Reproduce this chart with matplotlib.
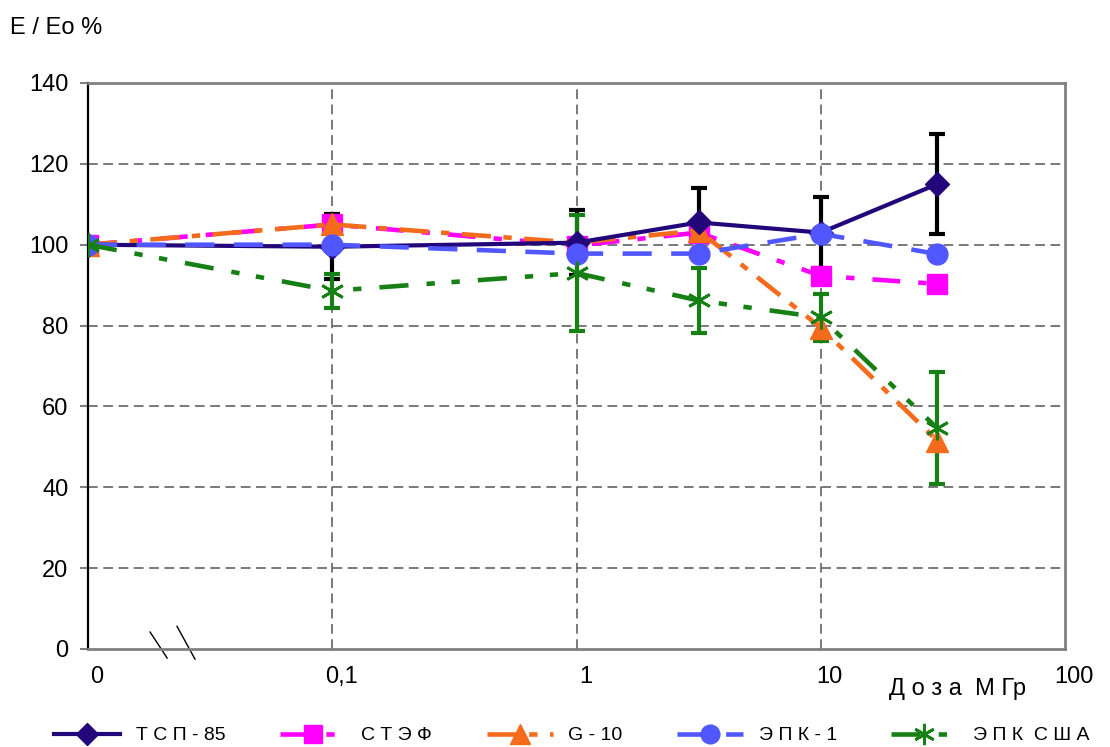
import matplotlib
matplotlib.use("Agg")
import matplotlib.pyplot as plt
import matplotlib.transforms as mtransforms

plt.rcParams['font.family'] = ['Liberation Sans', 'DejaVu Sans']
plt.rcParams['lines.scale_dashes'] = False

# dose, MGy (0 is drawn at 0.01 on the log axis)
dose = [0.01, 0.1, 1, 3.16, 10, 30]
tick_pos = [0.01, 0.1, 1, 10, 100]
tick_labels = ['0', '0,1', '1', '10', '100']

tsp85 = [100, 99.5, 100.5, 105.5, 103, 115]
tsp85_err = [0, 8, 8, 8.5, 8.7, 12.3]
stef = [100, 105, 99.8, 103, 92.3, 90.3]
g10 = [100, 105, 100.5, 103.5, 79.5, 51.5]
epk1 = [100, 100, 97.8, 97.8, 102.7, 97.7]
epk_usa = [100, 88.6, 93, 86.2, 82, 54.6]
epk_usa_err = [0, 4.2, 14.3, 8, 5.8, 13.8]

fig = plt.figure(figsize=(11.1, 7.47), dpi=100)
ax = fig.add_axes([0.0793, 0.1312, 0.8802, 0.7577])

# error bars go under the series
ax.errorbar(dose[1:], tsp85[1:], yerr=tsp85_err[1:], fmt='none', ecolor='black',
            elinewidth=3, capsize=6, capthick=3, zorder=2)
ax.errorbar(dose[1:], epk_usa[1:], yerr=epk_usa_err[1:], fmt='none', ecolor='#168015',
            elinewidth=3, capsize=6, capthick=3, zorder=2)

l1, = ax.plot(dose, tsp85, color='#22067a', lw=3, marker='D', ms=12, zorder=5,
              label='Т С П - 85')
l2, = ax.plot(dose, stef, color='#ff00ff', lw=3.3, marker='s', ms=14, zorder=4,
              dashes=(20, 13, 6, 13), label='С Т Э Ф')
l3, = ax.plot(dose, g10, color='#f56b1c', lw=3.3, marker='^', ms=16, zorder=4,
              dashes=(21, 9, 6, 9), label='G - 10')
l4, = ax.plot(dose, epk1, color='#5157ff', lw=3.3, marker='o', ms=15, zorder=6,
              dashes=(21, 14), label='Э П К - 1')
l5, = ax.plot(dose, epk_usa, color='#168015', lw=3.3, marker=(6, 2, 0), ms=17, mew=2,
              zorder=7, dashes=(21, 13, 6, 12, 6, 13), label='Э П К  С Ш А')

ax.set_xscale('log')
ax.set_xlim(0.01, 100)
ax.set_ylim(0, 140)
ax.set_xticks(tick_pos)
ax.set_xticklabels(tick_labels)
ax.minorticks_off()
ax.set_yticks(range(0, 141, 20))

ax.tick_params(axis='x', length=0, labelsize=17, pad=12)
ax.tick_params(axis='y', length=6, width=1.5, color='#808080', labelsize=17, pad=8)

# shift x tick labels a little to the right like the original
offset = mtransforms.ScaledTranslation(9 / 100, 0, fig.dpi_scale_trans)
for lab in ax.get_xticklabels():
    lab.set_transform(lab.get_transform() + offset)

for y in range(20, 140, 20):
    ax.axhline(y, color='#555555', lw=1.1, dashes=(7, 4), zorder=1)
for x in [0.1, 1, 10]:
    ax.axvline(x, color='#555555', lw=1.1, dashes=(7, 4), zorder=1)

ax.spines['left'].set_color('black')
ax.spines['left'].set_linewidth(1.6)
for s in ['top', 'right', 'bottom']:
    ax.spines[s].set_color('#808080')
    ax.spines[s].set_linewidth(2)

# axis break marks
ax.plot([0.0635, 0.081], [0.030, -0.016], transform=ax.transAxes, color='black',
        lw=1, clip_on=False)
ax.plot([0.0911, 0.1095], [0.040, -0.018], transform=ax.transAxes, color='black',
        lw=1, clip_on=False)

fig.text(0.009, 0.962, 'E / Eo %', fontsize=17, va='center', ha='left')
fig.text(0.863, 0.078, 'Д о з а  М Гр', fontsize=17, va='center', ha='center')

fig.legend(handles=[l1, l2, l3, l4, l5], loc='lower center', ncol=5,
           bbox_to_anchor=(0.515, -0.02), frameon=False, fontsize=14,
           handlelength=3.4, columnspacing=2.8, handletextpad=0.8, markerscale=0.9)

fig.savefig('out.png', dpi=100)
